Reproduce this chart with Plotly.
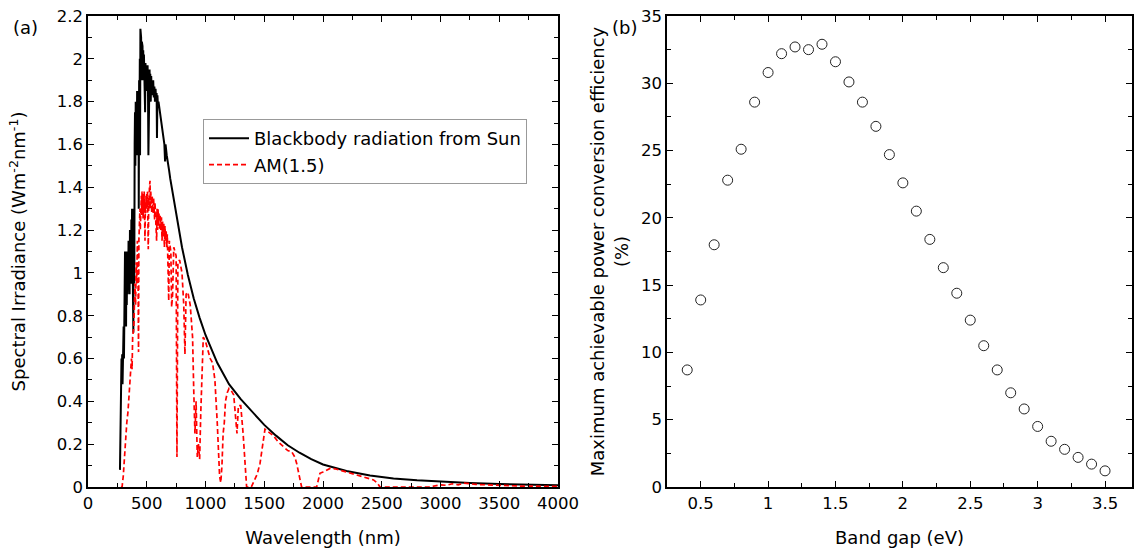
import plotly.graph_objects as go
from plotly.subplots import make_subplots

# ---------------- Panel (a) data ----------------
bb_wavelength = [272, 276, 279, 282, 285, 288, 291, 294, 297, 300, 303, 306, 309, 312, 315,
                 318, 321, 324, 327, 330, 333, 336, 339, 342, 345, 348, 351, 354, 357, 360,
                 363, 366, 369, 372, 375, 378, 381, 384, 386, 389, 392, 394, 397, 400, 403,
                 406, 409, 412, 415, 418, 421, 424, 427, 430, 432, 435, 438, 441, 443, 446,
                 449, 452, 455, 458, 461, 464, 467, 470, 473, 476, 479, 482, 486, 489, 492,
                 495, 498, 501, 504, 507, 510, 514, 518, 521, 524, 527, 530, 534, 538, 542,
                 546, 550, 555, 560, 565, 570, 575, 580, 584, 587, 591, 595, 600, 610, 620,
                 630, 640, 650, 656, 660, 670, 680, 690, 700, 750, 800, 850, 900, 950, 1000,
                 1100, 1200, 1300, 1400, 1500, 1600, 1700, 1800, 1900, 2000, 2200, 2400, 2600,
                 2800, 3000, 3250, 3500, 3750, 4000]
bb_irradiance = [0.08, 0.25, 0.45, 0.35, 0.60, 0.50, 0.62, 0.48, 0.66, 0.55, 0.75, 0.60, 0.85, 0.70, 1.10,
                 0.80, 1.00, 0.75, 1.10, 0.85, 1.05, 0.90, 1.10, 0.92, 1.15, 0.95, 1.12, 0.90, 1.20, 1.00,
                 1.15, 0.95, 1.25, 1.05, 1.30, 1.10, 1.28, 0.90, 0.72, 1.30, 1.10, 0.95, 1.60, 1.75, 1.50,
                 1.80, 1.60, 1.78, 1.55, 1.85, 1.65, 1.80, 1.60, 1.85, 1.30, 1.90, 1.70, 2.00, 1.55, 2.14,
                 1.95, 2.10, 1.90, 2.08, 1.92, 2.06, 1.90, 2.04, 1.92, 2.02, 1.90, 2.00, 1.75, 1.98, 1.88,
                 1.96, 1.85, 1.95, 1.85, 1.97, 1.90, 1.55, 1.92, 1.82, 1.95, 1.86, 1.93, 1.80, 1.92, 1.84,
                 1.90, 1.83, 1.90, 1.82, 1.87, 1.80, 1.86, 1.80, 1.84, 1.63, 1.83, 1.78, 1.80, 1.76, 1.74,
                 1.70, 1.66, 1.60, 1.52, 1.60, 1.55, 1.52, 1.48, 1.44, 1.27, 1.12, 0.99, 0.88, 0.79, 0.71,
                 0.58, 0.48, 0.41, 0.35, 0.29, 0.24, 0.195, 0.16, 0.13, 0.105, 0.075, 0.054, 0.040,
                 0.031, 0.025, 0.019, 0.014, 0.011, 0.008]

am15_wavelength = [280, 290, 300, 310, 320, 330, 340, 350, 360, 370, 375, 380, 390, 400, 405,
                   410, 415, 420, 425, 430, 433, 436, 439, 442, 445, 448, 451, 454, 457, 460,
                   463, 466, 469, 472, 475, 478, 481, 485, 488, 491, 494, 497, 500, 503, 506,
                   509, 513, 517, 520, 523, 526, 528, 531, 534, 537, 540, 543, 546, 549, 552,
                   555, 558, 561, 564, 567, 570, 573, 576, 580, 584, 588, 592, 596, 600, 605,
                   610, 615, 620, 625, 630, 635, 640, 645, 650, 655, 660, 665, 670, 675, 680,
                   687, 692, 700, 705, 712, 720, 730, 740, 750, 757, 765, 780, 800, 815, 825,
                   835, 850, 870, 890, 900, 910, 920, 930, 940, 950, 960, 970, 981, 1000, 1020,
                   1040, 1060, 1080, 1100, 1110, 1120, 1130, 1140, 1150, 1160, 1170, 1185, 1200,
                   1220, 1240, 1255, 1268, 1280, 1300, 1320, 1340, 1350, 1390, 1420, 1440, 1464,
                   1480, 1506, 1530, 1577, 1620, 1662, 1700, 1733, 1760, 1776, 1800, 1818, 1946,
                   1960, 1974, 2000, 2060, 2100, 2145, 2200, 2287, 2350, 2430, 2460, 2485, 2900,
                   2950, 3000, 3050, 3100, 3150, 3200, 3300, 3400, 3500, 3700, 4000]
am15_irradiance = [0.0, 0.0, 0.05, 0.15, 0.22, 0.30, 0.35, 0.45, 0.50, 0.60, 0.55, 0.70, 0.75, 0.95, 0.85,
                   1.05, 0.95, 1.15, 1.05, 0.63, 1.15, 1.25, 1.18, 1.30, 1.20, 1.33, 1.25, 1.36, 1.27, 1.38,
                   1.28, 1.35, 1.25, 1.37, 1.28, 1.38, 1.30, 1.15, 1.33, 1.28, 1.36, 1.30, 1.37, 1.30, 1.38,
                   1.25, 1.11, 1.35, 1.30, 1.40, 1.33, 1.43, 1.30, 1.38, 1.30, 1.38, 1.28, 1.36, 1.30, 1.35,
                   1.28, 1.35, 1.27, 1.33, 1.25, 1.33, 1.27, 1.30, 1.22, 1.15, 1.30, 1.20, 1.30, 1.22, 1.28,
                   1.20, 1.27, 1.20, 1.26, 1.15, 1.24, 1.17, 1.23, 1.12, 1.22, 1.15, 1.20, 1.12, 1.18, 1.08,
                   0.87, 1.15, 1.12, 1.10, 0.84, 0.90, 1.12, 1.10, 1.08, 0.14, 1.05, 1.06, 1.00, 0.85, 0.62,
                   0.90, 0.91, 0.85, 0.70, 0.45, 0.25, 0.40, 0.14, 0.20, 0.13, 0.35, 0.55, 0.70, 0.68, 0.64,
                   0.60, 0.58, 0.50, 0.30, 0.15, 0.05, 0.02, 0.10, 0.25, 0.30, 0.40, 0.44, 0.46,
                   0.45, 0.43, 0.35, 0.25, 0.38, 0.38, 0.25, 0.05, 0.0, 0.0, 0.04, 0.06, 0.11,
                   0.18, 0.27, 0.26, 0.24, 0.21, 0.19, 0.17, 0.165, 0.14, 0.11, 0.04, 0.0, 0.0,
                   0.03, 0.064, 0.07, 0.087, 0.085, 0.079, 0.07, 0.056, 0.047, 0.033, 0.02, 0.0, 0.0,
                   0.005, 0.01, 0.008, 0.015, 0.01, 0.018, 0.012, 0.01, 0.006, 0.004, 0.003]

# ---------------- Panel (b) data ----------------
band_gap = [0.4, 0.5, 0.6, 0.7, 0.8, 0.9, 1.0, 1.1, 1.2, 1.3, 1.4, 1.5, 1.6, 1.7, 1.8, 1.9,
            2.0, 2.1, 2.2, 2.3, 2.4, 2.5, 2.6, 2.7, 2.8, 2.9, 3.0, 3.1, 3.2, 3.3, 3.4, 3.5]
efficiency = [8.7, 13.9, 18.0, 22.8, 25.1, 28.6, 30.8, 32.2, 32.7, 32.5, 32.9, 31.6, 30.1, 28.6, 26.8, 24.7,
              22.6, 20.5, 18.4, 16.3, 14.4, 12.4, 10.5, 8.7, 7.0, 5.8, 4.5, 3.4, 2.8, 2.2, 1.7, 1.2]

FONT = "DejaVu Sans"
TICK_SIZE = 16.5
TITLE_SIZE = 18

fig = make_subplots(rows=1, cols=2, horizontal_spacing=0.1)

fig.add_trace(go.Scatter(x=bb_wavelength, y=bb_irradiance, mode="lines",
                         name="Blackbody radiation from Sun",
                         line=dict(color="black", width=2)), row=1, col=1)
fig.add_trace(go.Scatter(x=am15_wavelength, y=am15_irradiance, mode="lines",
                         name="AM(1.5)",
                         line=dict(color="#ff0000", width=1.7, dash="5px,3px")), row=1, col=1)
fig.add_trace(go.Scatter(x=band_gap, y=efficiency, mode="markers", showlegend=False,
                         marker=dict(symbol="circle-open", size=10, color="#222",
                                     line=dict(width=1, color="#222"))), row=1, col=2)

W, H = 1134, 550
ml, mr, mt, mb = 88, 2, 16, 63
pw = W - ml - mr
ph = H - mt - mb
left_dom = [0, (558 - ml) / pw]
right_dom = [(667 - ml) / pw, 1.0]

axis_common = dict(showline=True, linecolor="black", linewidth=1.5, mirror="ticks",
                   ticks="inside", ticklen=6, tickwidth=1.2, tickcolor="black",
                   showgrid=False, zeroline=False, automargin=False,
                   tickfont=dict(family=FONT, size=TICK_SIZE, color="black"))

fig.update_xaxes(**axis_common, domain=left_dom, range=[0, 4000], dtick=500, tick0=0,
                 minor=dict(dtick=250, ticks="inside", ticklen=4, tickcolor="black", showgrid=False),
                 title=dict(text="Wavelength (nm)", font=dict(family=FONT, size=TITLE_SIZE, color="black"), standoff=20),
                 row=1, col=1)
fig.update_yaxes(**axis_common, range=[0, 2.2], dtick=0.2, tick0=0,
                 minor=dict(dtick=0.1, ticks="inside", ticklen=4, tickcolor="black", showgrid=False),
                 title=dict(text="Spectral Irradiance (Wm<sup>-2</sup>nm<sup>-1</sup>)",
                            font=dict(family=FONT, size=TITLE_SIZE, color="black"), standoff=26),
                 row=1, col=1)
fig.update_xaxes(**axis_common, domain=right_dom, range=[0.25, 3.7], dtick=0.5, tick0=0.5,
                 minor=dict(dtick=0.25, ticks="inside", ticklen=4, tickcolor="black", showgrid=False),
                 title=dict(text="Band gap (eV)", font=dict(family=FONT, size=TITLE_SIZE, color="black"), standoff=20),
                 row=1, col=2)
fig.update_yaxes(**axis_common, range=[0, 35], dtick=5, tick0=0,
                 minor=dict(dtick=2.5, ticks="inside", ticklen=4, tickcolor="black", showgrid=False),
                 title=dict(text="Maximum achievable power conversion efficiency<br>(%)",
                            font=dict(family=FONT, size=TITLE_SIZE, color="black"), standoff=8),
                 row=1, col=2)

fig.add_annotation(text="(a)", xref="paper", yref="paper", x=(11 - ml) / pw, y=(H - mb - 27) / ph,
                   xanchor="left", yanchor="middle", showarrow=False,
                   font=dict(family=FONT, size=18, color="black"))
fig.add_annotation(text="(b)", xref="paper", yref="paper", x=(610 - ml) / pw, y=(H - mb - 27) / ph,
                   xanchor="left", yanchor="middle", showarrow=False,
                   font=dict(family=FONT, size=18, color="black"))

fig.update_layout(
    width=W, height=H,
    margin=dict(l=ml, r=mr, t=mt, b=mb),
    plot_bgcolor="white", paper_bgcolor="white",
    font=dict(family=FONT, size=TICK_SIZE, color="black"),
    legend=dict(x=(203 - ml) / pw, y=(H - mb - 119) / ph, xanchor="left", yanchor="top",
                bgcolor="white", bordercolor="#999", borderwidth=1,
                font=dict(family=FONT, size=TITLE_SIZE, color="black"),
                tracegroupgap=0, itemwidth=40),
)

fig.write_html("out.html")
